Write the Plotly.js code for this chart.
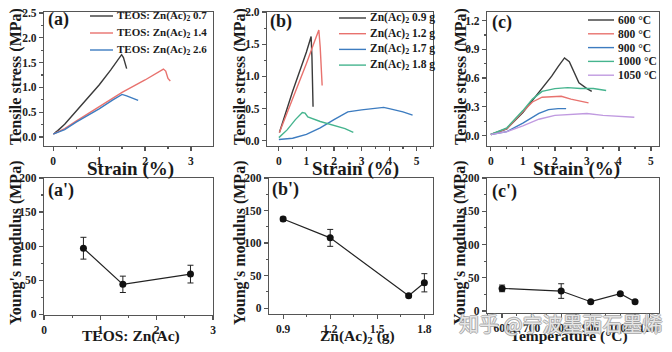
<!DOCTYPE html>
<html>
<head>
<meta charset="utf-8">
<script src="https://cdn.plot.ly/plotly-3.0.1.min.js"></script>
<style>html,body{margin:0;padding:0;background:#fff;}#chart{width:672px;height:352px;}</style>
</head>
<body>
<div id="chart"></div>
<script>
// ---------- DATA ----------
// (a) TEOS : Zn(Ac)2 ratio, stress-strain
const aNames = ['TEOS: Zn(Ac)<sub>2</sub> 0.7', 'TEOS: Zn(Ac)<sub>2</sub> 1.4', 'TEOS: Zn(Ac)<sub>2</sub> 2.6'];
const a07x = [0.03, 0.1, 0.25, 0.5, 0.75, 1.0, 1.25, 1.49, 1.53, 1.57, 1.6];
const a07y = [0.08, 0.13, 0.26, 0.52, 0.79, 1.05, 1.35, 1.66, 1.6, 1.44, 1.38];
const a14x = [0.0, 0.25, 0.5, 1.0, 1.5, 2.0, 2.3, 2.4, 2.45, 2.5, 2.55];
const a14y = [0.06, 0.17, 0.32, 0.61, 0.9, 1.15, 1.32, 1.37, 1.33, 1.18, 1.13];
const a26x = [0.0, 0.25, 0.5, 1.0, 1.3, 1.5, 1.6, 1.75, 1.85];
const a26y = [0.06, 0.15, 0.3, 0.57, 0.75, 0.86, 0.83, 0.78, 0.74];
// (b) Zn(Ac)2 mass, stress-strain
const bNames = ['Zn(Ac)<sub>2</sub> 0.9 g', 'Zn(Ac)<sub>2</sub> 1.2 g', 'Zn(Ac)<sub>2</sub> 1.7 g', 'Zn(Ac)<sub>2</sub> 1.8 g'];
const b09x = [0.02, 0.5, 1.0, 1.17, 1.2, 1.22, 1.24];
const b09y = [0.13, 0.77, 1.38, 1.62, 1.3, 0.9, 0.53];
const b12x = [0.02, 0.5, 1.0, 1.3, 1.45, 1.5, 1.54, 1.57];
const b12y = [0.13, 0.65, 1.2, 1.55, 1.72, 1.45, 1.1, 0.86];
const b17x = [0.0, 0.5, 1.0, 1.5, 2.0, 2.5, 3.0, 3.5, 3.8, 4.0, 4.5, 4.85];
const b17y = [0.02, 0.04, 0.1, 0.2, 0.33, 0.45, 0.48, 0.5, 0.52, 0.5, 0.45, 0.4];
const b18x = [0.0, 0.3, 0.6, 0.85, 0.95, 1.05, 1.5, 2.0, 2.4, 2.7];
const b18y = [0.05, 0.17, 0.33, 0.44, 0.43, 0.37, 0.3, 0.24, 0.19, 0.13];
// (c) temperature, stress-strain
const cNames = ['600 °C', '800 °C', '900 °C', '1000 °C', '1050 °C'];
const c600x = [0.0, 0.5, 1.0, 1.5, 1.9, 2.1, 2.3, 2.45, 2.6, 2.75, 3.0, 3.15];
const c600y = [0.01, 0.07, 0.24, 0.45, 0.62, 0.72, 0.81, 0.77, 0.65, 0.55, 0.49, 0.46];
const c800x = [0.0, 0.5, 1.0, 1.3, 1.6, 2.0, 2.2, 2.5, 2.8, 3.05];
const c800y = [0.01, 0.07, 0.25, 0.35, 0.4, 0.41, 0.41, 0.38, 0.36, 0.34];
const c900x = [0.0, 0.5, 1.0, 1.5, 1.8, 2.1, 2.35];
const c900y = [0.01, 0.04, 0.13, 0.23, 0.27, 0.28, 0.28];
const c1000x = [0.0, 0.5, 1.0, 1.3, 1.6, 2.0, 2.4, 2.8, 3.2, 3.6];
const c1000y = [0.01, 0.08, 0.26, 0.38, 0.46, 0.49, 0.5, 0.49, 0.49, 0.47];
const c1050x = [0.0, 0.5, 1.0, 1.5, 2.0, 2.5, 3.0, 3.5, 4.0, 4.48];
const c1050y = [0.01, 0.04, 0.1, 0.17, 0.21, 0.22, 0.23, 0.21, 0.2, 0.19];
// (a') (b') (c') Young's modulus
const apX = [0.7, 1.4, 2.6];
const apY = [97, 44, 59];
const apErr = [16, 12, 13];
const bpX = [0.9, 1.2, 1.7, 1.8];
const bpY = [137, 108, 19, 39];
const bpErr = [3, 13, 2, 14];
const cpX = [600, 800, 900, 1000, 1050];
const cpY = [34, 30, 14, 26, 14];
const cpErr = [5, 11, 2, 2, 2];
const cpTicks = [600, 700, 800, 900, 1000, 1100];

// ---------- STYLE ----------
const W = 672, H = 352;
const SERIF = 'Liberation Serif, Times New Roman, serif';
const cBlack = '#3a3a3a', cRed = '#e8726e', cBlue = '#3d7cc0', cTeal = '#45b48e', cPurple = '#c09ae0';
const aColors = [cBlack, cRed, cBlue];
const bColors = [cBlack, cRed, cBlue, cTeal];
const cColors = [cBlack, cRed, cBlue, cTeal, cPurple];
function dX(l, r) { return [l / W, r / W]; }
function dY(t, b) { return [1 - b / H, 1 - t / H]; }
const tickFont = { family: SERIF, size: 11.5, color: '#222', weight: 700 };
function ax(extra) {
  return Object.assign({
    showline: true, mirror: true, linecolor: '#555', linewidth: 1.2,
    ticks: 'outside', ticklen: 4, tickwidth: 1.2, tickcolor: '#555',
    showgrid: false, zeroline: false, tickfont: tickFont, fixedrange: true
  }, extra);
}
function minor(d) { return { ticks: 'outside', ticklen: 2, tickcolor: '#555', dtick: d, showgrid: false }; }

function line(x, y, color, xa, ya) {
  return { x: x, y: y, type: 'scatter', mode: 'lines', line: { color: color, width: 1.4 },
    xaxis: xa, yaxis: ya, showlegend: false, hoverinfo: 'skip' };
}
function pts(x, y, e, xa, ya) {
  return { x: x, y: y, type: 'scatter', mode: 'lines+markers',
    line: { color: '#222', width: 1.2 }, marker: { symbol: 'circle', size: 7, color: '#111' },
    error_y: { type: 'data', array: e, visible: true, color: '#222', thickness: 1, width: 3 },
    xaxis: xa, yaxis: ya, showlegend: false, hoverinfo: 'skip' };
}

const data = [
  line(a07x, a07y, aColors[0], 'x', 'y'),
  line(a14x, a14y, aColors[1], 'x', 'y'),
  line(a26x, a26y, aColors[2], 'x', 'y'),
  line(b09x, b09y, bColors[0], 'x2', 'y2'),
  line(b12x, b12y, bColors[1], 'x2', 'y2'),
  line(b17x, b17y, bColors[2], 'x2', 'y2'),
  line(b18x, b18y, bColors[3], 'x2', 'y2'),
  line(c600x, c600y, cColors[0], 'x3', 'y3'),
  line(c800x, c800y, cColors[1], 'x3', 'y3'),
  line(c900x, c900y, cColors[2], 'x3', 'y3'),
  line(c1000x, c1000y, cColors[3], 'x3', 'y3'),
  line(c1050x, c1050y, cColors[4], 'x3', 'y3'),
  pts(apX, apY, apErr, 'x4', 'y4'),
  pts(bpX, bpY, bpErr, 'x5', 'y5'),
  pts(cpX, cpY, cpErr, 'x6', 'y6')
];

const annotations = [];
const shapes = [];
function txt(s, x, y, size, opts) {
  annotations.push(Object.assign({
    text: s, xref: 'paper', yref: 'paper', x: x / W, y: 1 - y / H,
    xanchor: 'center', yanchor: 'middle', showarrow: false,
    font: { family: SERIF, size: size, color: '#1a1a1a', weight: 700 }
  }, opts || {}));
}
// manual legends
function legend(names, colors, x0, x1, y0, step, size) {
  names.forEach(function (n, i) {
    const yy = y0 + i * step;
    shapes.push({ type: 'line', xref: 'paper', yref: 'paper', x0: x0 / W, x1: x1 / W,
      y0: 1 - yy / H, y1: 1 - yy / H, line: { color: colors[i], width: 1.4 } });
    txt(n, x1 + 2, yy, size, { xanchor: 'left' });
  });
}
legend(aNames, aColors, 90, 113, 16, 17, 11);
legend(bNames, bColors, 339, 366, 18, 15.7, 11.5);
legend(cNames, cColors, 588, 614, 20, 13.8, 11.5);

// panel labels
txt('(a)', 46, 20, 18, { xanchor: 'left' });
txt('(b)', 268, 21, 18, { xanchor: 'left' });
txt('(c)', 490, 22, 18, { xanchor: 'left' });
txt("(a')", 46, 190, 18, { xanchor: 'left' });
txt("(b')", 270, 189, 18, { xanchor: 'left' });
txt("(c')", 490, 191, 18, { xanchor: 'left' });

// axis titles
txt('Tensile stress (MPa)', 16, 77, 16, { textangle: -90 });
txt('Tensile stress (MPa)', 240, 77, 16, { textangle: -90 });
txt('Tensile stress (MPa)', 461, 77, 16, { textangle: -90 });
txt("Young's modulus (MPa)", 16, 243, 16, { textangle: -90 });
txt("Young's modulus (MPa)", 240, 243, 16, { textangle: -90 });
txt("Young's modulus (MPa)", 460, 243, 16, { textangle: -90 });
txt('Strain (%)', 130, 169, 19);
txt('Strain (%)', 355, 169, 19);
txt('Strain (%)', 576, 169, 19);
txt('TEOS: Zn(Ac)', 131, 336, 15.5);
txt('Zn(Ac)<sub>2</sub> (g)', 357, 336, 15.5);
txt('Temperature (°C)', 569, 336, 15.5);

// watermark (present in the reference image)
annotations.push({
  text: '知乎 @宁波墨西石墨烯', xref: 'paper', yref: 'paper', x: 560 / W, y: 1 - 323 / H,
  xanchor: 'center', yanchor: 'middle', showarrow: false,
  font: { family: 'Noto Sans CJK SC', size: 20, color: 'rgba(255,255,255,0.75)',
    shadow: '1px 0 0 #999, -1px 0 0 #999, 0 1px 0 #999, 0 -1px 0 #999' }
});

const layout = {
  width: W, height: H, margin: { l: 0, r: 0, t: 0, b: 0 },
  paper_bgcolor: '#fff', plot_bgcolor: '#fff', showlegend: false,
  xaxis: ax({ domain: dX(44, 213), anchor: 'y', range: [-0.2, 3.48], dtick: 1, tick0: 0, minor: minor(0.5) }),
  yaxis: ax({ domain: dY(12, 146), anchor: 'x', range: [-0.18, 2.52], dtick: 0.5, tick0: 0, tickformat: '.1f', minor: minor(0.25) }),
  xaxis2: ax({ domain: dX(267, 433), anchor: 'y2', range: [-0.43, 5.59], dtick: 1, tick0: 0, minor: minor(0.5) }),
  yaxis2: ax({ domain: dY(12, 146), anchor: 'x2', range: [-0.08, 2.0], dtick: 0.5, tick0: 0, tickformat: '.1f', minor: minor(0.25) }),
  xaxis3: ax({ domain: dX(487, 659), anchor: 'y3', range: [-0.12, 5.25], dtick: 1, tick0: 0, minor: minor(0.5) }),
  yaxis3: ax({ domain: dY(12, 146), anchor: 'x3', range: [-0.11, 1.29], dtick: 0.3, tick0: 0, tickformat: '.1f', minor: minor(0.15) }),
  xaxis4: ax({ domain: dX(44, 213), anchor: 'y4', range: [0, 3], dtick: 1, tick0: 0, minor: minor(0.5) }),
  yaxis4: ax({ domain: dY(178, 315), anchor: 'x4', range: [-1, 200], dtick: 50, tick0: 0, minor: minor(25) }),
  xaxis5: ax({ domain: dX(269, 433), anchor: 'y5', range: [0.81, 1.855], tickvals: [0.9, 1.2, 1.5, 1.8], tickformat: '.1f', minor: minor(0.15) }),
  yaxis5: ax({ domain: dY(178, 314), anchor: 'x5', range: [-9, 200], dtick: 50, tick0: 0, minor: minor(25) }),
  xaxis6: ax({ domain: dX(487, 659), anchor: 'y6', range: [549, 1131], tickvals: cpTicks, minor: minor(50) }),
  yaxis6: ax({ domain: dY(178, 313), anchor: 'x6', range: [-3, 200], dtick: 50, tick0: 0, minor: minor(25) }),
  annotations: annotations,
  shapes: shapes
};

Plotly.newPlot('chart', data, layout, { staticPlot: true, displayModeBar: false });
</script>
</body>
</html>
